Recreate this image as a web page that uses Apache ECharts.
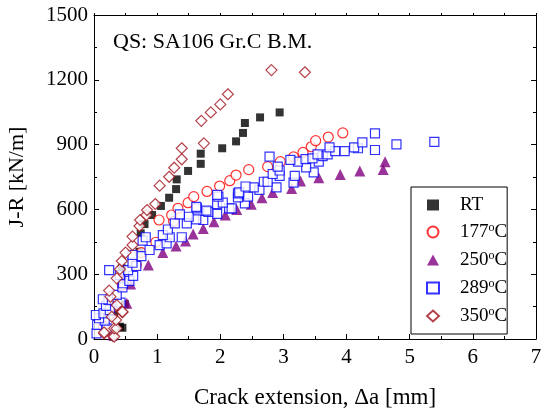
<!DOCTYPE html>
<html>
<head>
<meta charset="utf-8">
<script src="https://cdn.jsdelivr.net/npm/echarts@6/dist/echarts.min.js"></script>
<style>html,body{margin:0;padding:0;background:#fff}#c{width:541px;height:409px}</style>
</head>
<body>
<div id="c"></div>
<script>
var seriesNames = ['RT', '177°C', '250°C', '289°C', '350°C'];
var xTicks = [0, 1, 2, 3, 4, 5, 6, 7];
var yTicks = [0, 300, 600, 900, 1200, 1500];

var dataRT = [
  [0.30,10],[0.45,52],[0.41,57],[0.32,125],[0.49,161],[0.44,327],
  [0.72,404],[0.74,489],[0.80,532],[0.92,574],[1.06,616],[1.19,654],[1.30,694],
  [1.31,739],[1.49,778],[1.69,811],[1.69,858],[2.03,883],[2.25,915],[2.36,954],
  [2.39,1000],[2.63,1026],[2.94,1049]
];
var data177 = [
  [0.15,60],[0.30,150],[0.45,250],[0.67,343],[0.75,400],[0.98,448],[1.03,551],
  [1.26,545],[1.23,574],[1.33,605],[1.49,631],[1.58,659],[1.79,683],[1.99,708],[2.15,733],
  [2.25,759],[2.45,784],[2.75,798],[2.95,821],[3.16,843],[3.31,864],[3.44,890],
  [3.51,918],[3.71,935],[3.94,954]
];
var data250 = [
  [0.30,20],[0.52,165],[0.58,255],[0.46,290],[0.86,343],[1.09,401],[1.30,430],[1.45,454],
  [1.57,486],[1.73,512],[1.90,543],[2.08,574],[2.26,600],[2.49,624],[2.66,654],
  [2.83,678],[3.13,697],[3.27,731],[3.56,747],[3.90,762],[4.21,778],[4.58,785],
  [4.61,821]
];
var data289 = [
  [0.04,26],[0.20,49],[0.05,65],[0.17,85],[0.08,96],[0.03,111],[0.15,119],
  [0.25,134],[0.19,153],[0.42,168],[0.23,181],[0.14,184],[0.36,204],[0.45,239],
  [0.46,258],[0.56,269],[0.62,292],[0.41,296],[0.24,319],[0.54,319],[0.67,338],
  [0.61,353],[0.75,384],[0.61,389],[0.88,412],[1.04,435],[1.15,443],[0.77,455],
  [0.82,471],[1.20,471],[1.39,471],[1.09,481],[1.17,507],[1.28,535],[1.47,535],
  [1.73,551],[1.62,554],[1.50,566],[1.36,577],[1.95,579],[1.81,589],[1.78,594],
  [1.63,605],[2.14,605],[2.18,605],[1.62,612],[1.95,625],[2.39,628],[2.04,631],
  [1.97,659],[2.44,659],[2.28,656],[1.95,667],[2.28,674],[2.30,679],[2.62,690],
  [2.53,702],[2.89,702],[2.40,706],[2.69,728],[2.75,728],[3.16,724],[2.94,755],
  [3.18,755],[2.83,764],[3.48,771],[2.94,780],[3.36,795],[2.91,798],[3.23,821],
  [3.56,821],[3.11,829],[3.35,833],[3.46,836],[2.78,844],[3.62,847],[3.54,855],
  [3.70,855],[3.82,870],[3.97,870],[4.45,875],[4.18,883],[3.73,887],[4.12,887],
  [4.79,901],[4.25,910],[5.39,913],[4.45,952]
];
var data350 = [
  [0.30,14],[0.32,11],[0.16,26],[0.16,31],[0.32,49],[0.36,49],[0.35,88],
  [0.28,103],[0.45,124],[0.45,126],[0.36,157],[0.26,196],[0.24,224],[0.36,281],
  [0.41,323],[0.44,361],[0.50,400],[0.61,435],[0.61,474],[0.72,523],[0.73,551],
  [0.83,574],[0.84,597],[0.97,625],[1.04,710],[1.19,751],[1.27,793],[1.39,832],
  [1.39,883],[1.74,906],[1.70,1010],[1.85,1049],[2.00,1086],[2.12,1133],
  [2.81,1245],[3.34,1235]
];

var FONT = 'Liberation Serif';
var chart = echarts.init(document.getElementById('c'), null, {renderer: 'canvas'});

function mk(name, data, symbol, size, color, filled, z) {
  return {
    name: name, type: 'scatter', data: data, symbol: symbol, symbolSize: size,
    xAxisIndex: 0, yAxisIndex: 0, z: z,
    itemStyle: filled ? {color: color, borderWidth: 0}
                      : {color: '#ffffff', borderColor: color, borderWidth: 1.2},
    emphasis: {disabled: true}
  };
}

function plain(v) { return String(v); }

chart.setOption({
  animation: false,
  backgroundColor: '#fff',
  textStyle: {fontFamily: FONT, color: '#000'},
  grid: {left: 94, right: 5, top: 15, bottom: 70, containLabel: false, outerBoundsMode: 'none'},
  title: {
    text: 'QS: SA106 Gr.C B.M.', left: 108, top: 26,
    textStyle: {fontFamily: FONT, fontSize: 22, fontWeight: 'normal', color: '#000'}
  },
  legend: {
    orient: 'vertical', left: 411, top: 187,
    padding: [8, 0, 7, 15], itemGap: 7, itemWidth: 12, itemHeight: 11,
    borderColor: '#000', borderWidth: 1, backgroundColor: '#fff',
    data: seriesNames,
    formatter: function (n) { return n.replace('°', '{s|o}'); },
    textStyle: {
      fontFamily: FONT, fontSize: 19, color: '#000', lineHeight: 20, padding: [0, 0, 0, 16],
      rich: {s: {fontFamily: FONT, fontSize: 12, color: '#000', verticalAlign: 'top', lineHeight: 20, padding: [0, 0, 9, 0]}}
    }
  },
  xAxis: [{
    type: 'value', min: xTicks[0], max: xTicks[xTicks.length - 1], interval: 1,
    name: 'Crack extension, \u0394a [mm]', nameLocation: 'middle', nameGap: 47,
    nameTextStyle: {fontFamily: FONT, fontSize: 23, color: '#000'},
    axisLine: {show: true, onZero: false, lineStyle: {color: '#000', width: 1}},
    axisTick: {show: true, inside: true, length: 5, lineStyle: {color: '#000'}},
    minorTick: {show: true, splitNumber: 2, length: 3, lineStyle: {color: '#000'}},
    splitLine: {show: false},
    axisLabel: {margin: 8, fontFamily: FONT, fontSize: 21, color: '#000', formatter: plain}
  }, {
    type: 'value', position: 'top', min: 0, max: 7, interval: 1,
    axisLine: {show: true, onZero: false, lineStyle: {color: '#000', width: 1}},
    axisTick: {show: true, inside: false, length: 2, lineStyle: {color: '#000'}},
    minorTick: {show: true, splitNumber: 2, length: 2, lineStyle: {color: '#000'}},
    splitLine: {show: false}, axisLabel: {show: false}
  }],
  yAxis: [{
    type: 'value', min: yTicks[0], max: yTicks[yTicks.length - 1], interval: 300,
    name: 'J-R [kN/m]', nameLocation: 'middle', nameGap: 66, nameRotate: 90,
    nameTextStyle: {fontFamily: FONT, fontSize: 22, color: '#000'},
    axisLine: {show: true, onZero: false, lineStyle: {color: '#000', width: 1}},
    axisTick: {show: true, inside: true, length: 5, lineStyle: {color: '#000'}},
    minorTick: {show: true, splitNumber: 2, length: 3, lineStyle: {color: '#000'}},
    splitLine: {show: false},
    axisLabel: {margin: 6, fontFamily: FONT, fontSize: 21, color: '#000', formatter: plain}
  }, {
    type: 'value', position: 'right', min: 0, max: 1500, interval: 300,
    axisLine: {show: true, onZero: false, lineStyle: {color: '#000', width: 1}},
    axisTick: {show: true, inside: true, length: 5, lineStyle: {color: '#000'}},
    minorTick: {show: true, splitNumber: 2, length: 3, lineStyle: {color: '#000'}},
    splitLine: {show: false}, axisLabel: {show: false}
  }],
  series: [
    mk(seriesNames[0], dataRT, 'rect', 8, '#000000', true, 2),
    mk(seriesNames[1], data177, 'circle', 10, '#ff0000', false, 3),
    mk(seriesNames[2], data250, 'triangle', 11, '#800080', true, 4),
    mk(seriesNames[3], data289, 'rect', 9, '#0000ff', false, 5),
    mk(seriesNames[4], data350, 'diamond', 11, '#a0141e', false, 6)
  ]
});
</script>
</body>
</html>
